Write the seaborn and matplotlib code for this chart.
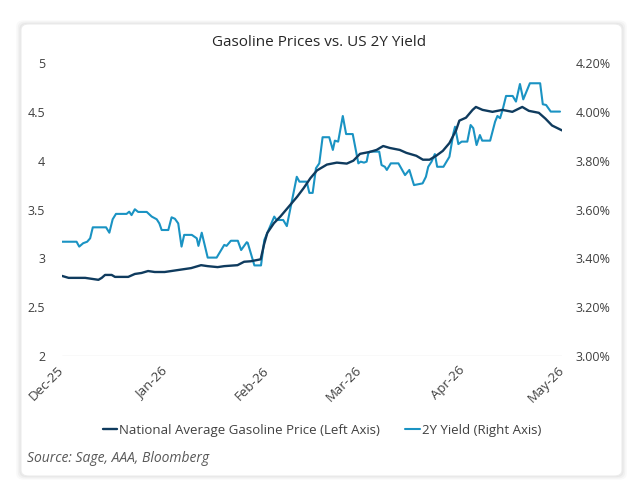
import pandas as pd
import matplotlib
matplotlib.use("Agg")
import matplotlib.pyplot as plt
import seaborn as sns
from matplotlib.patches import FancyBboxPatch
from matplotlib.ticker import FuncFormatter, MultipleLocator
import matplotlib.dates as mdates

# Data (days since 2025-12-01)
gas_day = [0, 2, 4, 7, 9, 11, 12, 13, 15, 16, 20, 22, 24, 26, 28, 31, 33, 35, 39, 42,
           44, 47, 49, 53, 55, 57, 60, 61, 62, 64, 66, 69, 71, 73, 75, 77, 80, 83, 86, 88,
           90, 93, 95, 97, 99, 102, 104, 107, 109, 111, 113, 115, 117, 119, 120, 122, 124,
           125, 127, 130, 133, 136, 139, 141, 144, 146, 148, 151]
gas_price = [2.82, 2.80, 2.80, 2.80, 2.79, 2.78, 2.80, 2.83, 2.83, 2.81, 2.81, 2.84, 2.85,
             2.87, 2.86, 2.86, 2.87, 2.88, 2.90, 2.93, 2.92, 2.91, 2.92, 2.93, 2.965, 2.97,
             2.99, 3.14, 3.26, 3.36, 3.43, 3.55, 3.63, 3.72, 3.82, 3.90, 3.96, 3.98, 3.97,
             4.00, 4.07, 4.09, 4.11, 4.15, 4.13, 4.11, 4.08, 4.05, 4.01, 4.01, 4.05, 4.10,
             4.18, 4.31, 4.41, 4.44, 4.52, 4.55, 4.52, 4.50, 4.52, 4.50, 4.55, 4.51, 4.49,
             4.43, 4.36, 4.31]

yield_day = [0, 4.4, 5.2, 6.4, 7.6, 8.5, 9.3, 13.3, 14.3, 15.3, 16.3, 19.5, 20.3, 21.0,
             22.0, 23.0, 25.6, 27.1, 28.6, 29.4, 30.1, 32.1, 33.1, 34.1, 35.1, 36.1, 36.9,
             39.2, 40.7, 41.2, 42.2, 44.0, 46.7, 49.0, 49.7, 51.0, 53.1, 54.1, 55.8, 56.1,
             58.1, 60.1, 61.1, 64.1, 64.8, 66.8, 67.9, 70.9, 71.7, 73.9, 74.7, 75.7, 76.7,
             77.7, 78.7, 80.7, 81.8, 82.4, 83.4, 84.8, 85.8, 87.8, 89.5, 90.2, 91.2, 92.0,
             92.5, 93.0, 95.8, 96.5, 97.5, 98.1, 99.3, 101.6, 103.6, 104.9, 106.3, 108.9,
             109.9, 110.6, 111.6, 112.6, 113.3, 115.2, 117.0, 118.2, 118.7, 119.7, 120.7,
             122.4, 123.4, 124.2, 125.2, 126.2, 126.9, 129.3, 130.8, 131.5, 132.3, 133.1,
             134.1, 136.1, 137.1, 138.3, 139.3, 141.3, 144.4, 145.2, 146.2, 147.6, 150.4]
yield_2y = [3.468, 3.468, 3.448, 3.462, 3.468, 3.482, 3.527, 3.527, 3.505, 3.560, 3.582,
            3.582, 3.591, 3.577, 3.601, 3.590, 3.590, 3.571, 3.560, 3.543, 3.516, 3.516,
            3.568, 3.562, 3.543, 3.448, 3.496, 3.496, 3.482, 3.451, 3.505, 3.403, 3.403,
            3.455, 3.451, 3.472, 3.472, 3.434, 3.466, 3.463, 3.371, 3.371, 3.475, 3.571,
            3.557, 3.557, 3.532, 3.734, 3.714, 3.714, 3.668, 3.668, 3.769, 3.789, 3.896,
            3.896, 3.844, 3.882, 3.878, 3.983, 3.909, 3.909, 3.789, 3.796, 3.792, 3.796,
            3.830, 3.837, 3.837, 3.782, 3.775, 3.762, 3.789, 3.789, 3.741, 3.762, 3.700,
            3.707, 3.734, 3.775, 3.796, 3.827, 3.775, 3.775, 3.816, 3.912, 3.939, 3.868,
            3.878, 3.878, 3.946, 3.933, 3.864, 3.905, 3.882, 3.882, 3.960, 3.983, 3.974,
            4.010, 4.065, 4.065, 4.042, 4.114, 4.051, 4.117, 4.117, 4.031, 4.028, 4.001,
            4.001]

month_ticks = ["2025-12-01", "2026-01-01", "2026-02-01", "2026-03-01", "2026-04-01", "2026-05-01"]

start = pd.Timestamp("2025-12-01")
gas = pd.DataFrame({"date": start + pd.to_timedelta(gas_day, unit="D"), "value": gas_price})
yld = pd.DataFrame({"date": start + pd.to_timedelta(yield_day, unit="D"), "value": yield_2y})

sns.set_style("white")
plt.rcParams["font.family"] = ["Open Sans", "DejaVu Sans"]

gas_color = "#0f3b5e"
yld_color = "#1a93c3"
text_color = "#404040"

fig = plt.figure(figsize=(6.39, 4.94), dpi=100)
fig.patch.set_facecolor("white")

# card with soft shadow
for i, a in enumerate([0.025, 0.03, 0.04]):
    g = (3 - i) * 0.0025
    fig.patches.append(FancyBboxPatch((21 / 639 - g, 18 / 494 - g), 601 / 639 + 2 * g, 452 / 494 + 2 * g,
                                      boxstyle="round,pad=0,rounding_size=0.012", transform=fig.transFigure,
                                      facecolor="black", edgecolor="none", alpha=a, zorder=0))
fig.patches.append(FancyBboxPatch((21 / 639, 18 / 494), 601 / 639, 452 / 494,
                                  boxstyle="round,pad=0,rounding_size=0.012", transform=fig.transFigure,
                                  facecolor="white", edgecolor="#ececec", linewidth=0.8, zorder=0))

ax = fig.add_axes([62 / 639, 1 - 356 / 494, 500 / 639, 293 / 494])
ax.set_facecolor("none")
ax2 = ax.twinx()

sns.lineplot(data=yld, x="date", y="value", ax=ax2, color=yld_color, linewidth=1.5)
sns.lineplot(data=gas, x="date", y="value", ax=ax, color=gas_color, linewidth=1.7)
ax.set_zorder(2)
ax2.set_zorder(1)
ax.patch.set_visible(False)

ax.set_ylim(2, 5)
ax2.set_ylim(3.0, 4.2)
ax.set_xlim(pd.Timestamp(month_ticks[0]), pd.Timestamp(month_ticks[-1]))
ax.yaxis.set_major_locator(MultipleLocator(0.5))
ax.yaxis.set_major_formatter(FuncFormatter(lambda v, p: f"{v:g}"))
ax2.yaxis.set_major_locator(MultipleLocator(0.2))
ax2.yaxis.set_major_formatter(FuncFormatter(lambda v, p: f"{v:.2f}%"))

ax.set_xticks(pd.to_datetime(month_ticks))
ax.xaxis.set_major_formatter(mdates.DateFormatter("%b-%y"))

for a in (ax, ax2):
    for s in a.spines.values():
        s.set_visible(False)
    a.set_xlabel("")
    a.set_ylabel("")
    a.tick_params(length=0, labelsize=9, colors=text_color)
ax.tick_params(axis="y", pad=12)
ax2.tick_params(axis="y", pad=10)
ax.tick_params(axis="x", pad=9, labelsize=9.5)
for lbl in ax.get_xticklabels():
    lbl.set_rotation(45)
    lbl.set_ha("right")
    lbl.set_va("center")
    lbl.set_rotation_mode("anchor")
ax.axhline(2, color="#e3e3e3", linewidth=1.0, zorder=0)

fig.text(0.5, 1 - 43 / 494, "Gasoline Prices vs. US 2Y Yield", ha="center", va="center",
         fontsize=11, color="#262626")

handles = [plt.Line2D([], [], color=gas_color, linewidth=1.7),
           plt.Line2D([], [], color=yld_color, linewidth=1.5)]
fig.legend(handles, ["National Average Gasoline Price (Left Axis)", "2Y Yield (Right Axis)"],
           loc="center", bbox_to_anchor=(322 / 639, 1 - 430 / 494), ncol=2, frameon=False,
           fontsize=9.5, handlelength=1.1, handletextpad=0.15, columnspacing=1.9,
           labelcolor=text_color)

fig.text(27 / 639, 1 - 458 / 494, "Source: Sage, AAA, Bloomberg", ha="left", va="center",
         fontsize=10, style="italic", color="#595959")

fig.savefig("out.png", dpi=100)
